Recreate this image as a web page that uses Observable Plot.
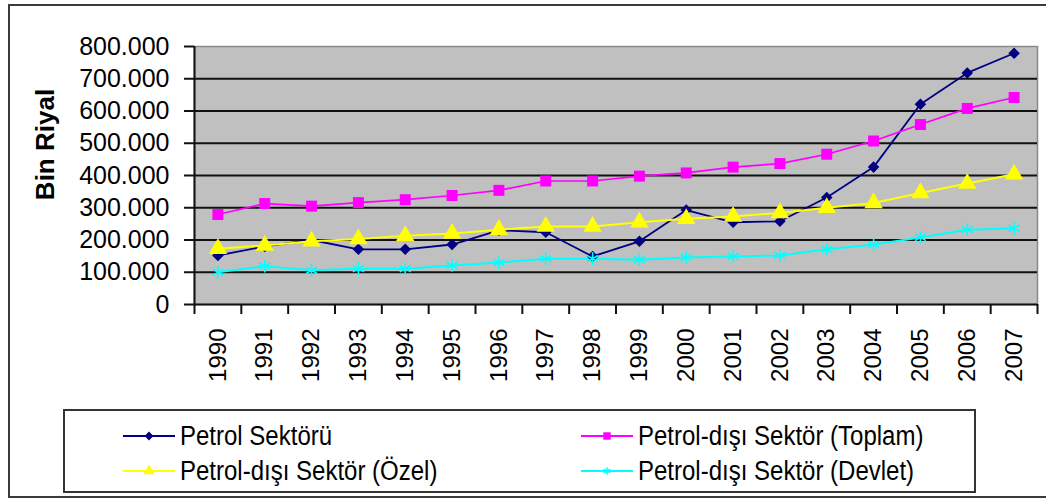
<!DOCTYPE html>
<html>
<head>
<meta charset="utf-8">
<script src="https://cdn.jsdelivr.net/npm/d3@7"></script>
<script src="https://cdn.jsdelivr.net/npm/@observablehq/plot@0.6"></script>
<style>
  html, body { margin: 0; padding: 0; background: #fff; }
  #wrap { position: relative; width: 1046px; height: 500px; overflow: hidden; font-family: "Liberation Sans", Arial, sans-serif; }
  #outer { position: absolute; left: 8px; top: 4px; width: 1050px; height: 494px; border: 2px solid #3a3a3a; box-sizing: border-box; }
  #chart { position: absolute; left: 0; top: 0; }
  #legend { position: absolute; left: 63px; top: 409px; width: 913px; height: 84px; border: 2px solid #333; box-sizing: border-box; background: #fff; }
  .entry { position: absolute; display: flex; align-items: center; font-size: 24px; color: #000; white-space: nowrap; }
  .entry span { display: inline-block; transform: scaleY(1.15); }
  .entry svg { margin-right: 5px; }
</style>
</head>
<body>
<div id="wrap">
  <div id="outer"></div>
  <div id="chart"></div>
  <div id="legend"></div>
</div>
<script>
// ---- data ----
const years = [1990,1991,1992,1993,1994,1995,1996,1997,1998,1999,2000,2001,2002,2003,2004,2005,2006,2007];
const petrol = [152000,180000,200000,171000,171000,186000,230000,224000,149000,196000,293000,255000,258000,332000,426000,621000,718000,779000];
const toplam = [279000,313000,305000,316000,325000,338000,354000,383000,383000,398000,408000,426000,437000,466000,507000,558000,608000,642000];
const ozel   = [173000,183000,196000,203000,213000,220000,232000,242000,242000,255000,266000,273000,284000,300000,315000,346000,375000,404000];
const devlet = [100000,119000,106000,111000,111000,121000,130000,142000,142000,139000,146000,149000,152000,171000,186000,208000,232000,236000];
const seriesNames = ["Petrol Sektörü","Petrol-dışı Sektör (Toplam)","Petrol-dışı Sektör (Özel)","Petrol-dışı Sektör (Devlet)"];
const seriesValues = [petrol, toplam, ozel, devlet];
const yTicks = [0,100000,200000,300000,400000,500000,600000,700000,800000];
const yLabel = "Bin Riyal";

// ---- styles ----
const styles = [
  {color:"#000080", symbol:"diamond2", r:5.2, sw:1.8},
  {color:"#ff00ff", symbol:"square", r:6.2, sw:1.7},
  {color:"#ffff00", symbol:"triangle", r:6.8, sw:2},
  {color:"#00ffff", symbol:"asterisk", r:6, sw:2}
];

const rows = [];
seriesNames.forEach((name, i) => {
  years.forEach((yr, j) => rows.push({series: name, idx: i, year: String(yr), value: seriesValues[i][j]}));
});

const W = 1046, H = 400;
const mL = 194, mR = 9, mT = 46, mB = 96;
const bw = (W - mL - mR) / years.length;
const fmt = d => d === 0 ? "0" : d3.format(",")(d).replace(/,/g, ".");
const yearStr = years.map(String);

const marks = [
  Plot.frame({fill: "#c0c0c0", stroke: "#8a8a8a", strokeWidth: 1.5}),
  Plot.ruleY(yTicks.filter(d => d > 0 && d < 800000), {stroke: "#111", strokeWidth: 2}),
  Plot.ruleY([0], {stroke: "#111", strokeWidth: 2}),
  Plot.ruleX([yearStr[0]], {dx: -bw/2, stroke: "#111", strokeWidth: 2}),
  Plot.axisY({ticks: yTicks, tickFormat: fmt, tickSize: 10, tickPadding: 15, fontSize: 25, label: null, stroke: "#111", strokeWidth: 2}),
  Plot.axisX({ticks: yearStr, tickSize: 10, text: null, dx: -bw/2, label: null, stroke: "#111", strokeWidth: 2}),
  Plot.axisX({ticks: [yearStr[yearStr.length-1]], tickSize: 10, text: null, dx: bw/2, label: null, stroke: "#111", strokeWidth: 2}),
  Plot.axisX({ticks: yearStr, tickSize: 0, tickRotate: -90, tickPadding: 24, fontSize: 24, label: null}),
  Plot.text([yLabel], {text: d => d, frameAnchor: "left", dx: -149, dy: -31, rotate: -90, textAnchor: "middle", fontSize: 26, fontWeight: "bold", fill: "#000"})
];
seriesNames.forEach((name, i) => {
  const data = rows.filter(r => r.idx === i);
  const s = styles[i];
  marks.push(Plot.line(data, {x: "year", y: "value", stroke: s.color, strokeWidth: s.sw}));
});
seriesNames.forEach((name, i) => {
  const data = rows.filter(r => r.idx === i);
  const s = styles[i];
  if (s.symbol === "asterisk") {
    marks.push(Plot.dot(data, {x: "year", y: "value", symbol: "asterisk", r: s.r, stroke: s.color, strokeWidth: 1.6, fill: "none"}));
  } else {
    marks.push(Plot.dot(data, {x: "year", y: "value", symbol: s.symbol, r: s.r, fill: s.color, stroke: "none"}));
  }
});

const chart = Plot.plot({
  width: W, height: H,
  marginLeft: mL, marginRight: mR, marginTop: mT, marginBottom: mB,
  style: {fontFamily: "'Liberation Sans', Arial, sans-serif", fontSize: "24px", color: "#000", background: "transparent", overflow: "visible"},
  x: {type: "band", domain: yearStr, padding: 0, round: false, axis: null},
  y: {type: "linear", domain: [0, 800000], axis: null},
  marks
});
document.getElementById("chart").appendChild(chart);

// ---- legend ----
const legend = document.getElementById("legend");
const pos = [[58, 11], [516, 11], [58, 46], [516, 46]];
function swatch(s) {
  const n = "http://www.w3.org/2000/svg";
  const svg = document.createElementNS(n, "svg");
  svg.setAttribute("width", 52); svg.setAttribute("height", 20);
  const line = document.createElementNS(n, "line");
  line.setAttribute("x1", 0); line.setAttribute("x2", 52); line.setAttribute("y1", 10); line.setAttribute("y2", 10);
  line.setAttribute("stroke", s.color); line.setAttribute("stroke-width", 2);
  svg.appendChild(line);
  const p = document.createElementNS(n, "path");
  p.setAttribute("transform", "translate(26,10)");
  if (s.symbol === "asterisk") {
    p.setAttribute("d", d3.symbol(d3.symbolAsterisk, 40)());
    p.setAttribute("stroke", s.color); p.setAttribute("fill", "none"); p.setAttribute("stroke-width", 1.5);
  } else {
    const sym = {diamond2: d3.symbolDiamond2, square: d3.symbolSquare, triangle: d3.symbolTriangle}[s.symbol];
    p.setAttribute("d", d3.symbol(sym, s.symbol === "diamond2" ? 50 : 55)());
    p.setAttribute("fill", s.color);
  }
  svg.appendChild(p);
  return svg;
}
seriesNames.forEach((name, i) => {
  const e = document.createElement("div");
  e.className = "entry";
  e.style.left = pos[i][0] + "px";
  e.style.top = pos[i][1] + "px";
  e.appendChild(swatch(styles[i]));
  const t = document.createElement("span");
  t.textContent = name;
  e.appendChild(t);
  legend.appendChild(e);
});
</script>
</body>
</html>
